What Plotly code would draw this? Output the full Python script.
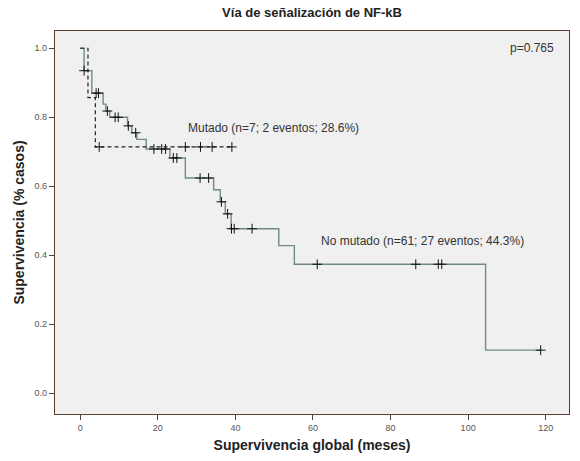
import numpy as np
import plotly.graph_objects as go

# Kaplan-Meier step curves (months, survival proportion)
no_mut_t = [0, 1.0, 3.0, 5.9, 6.6, 7.6, 12.2, 13.3, 14.6, 17.0, 23.1, 27.1,
            34.4, 36.1, 37.4, 38.9, 51.2, 55.2, 104.5, 118.7]
no_mut_s = [1.0, 0.935, 0.870, 0.838, 0.818, 0.800, 0.775, 0.755, 0.736, 0.708,
            0.682, 0.624, 0.590, 0.555, 0.520, 0.477, 0.428, 0.374, 0.125, 0.125]
no_mut_cens = [1.0, 4.1, 4.7, 7.0, 9.0, 9.8, 12.4, 14.3, 19.0, 21.0, 22.0, 24.0,
               24.9, 30.9, 33.1, 36.4, 38.0, 39.0, 39.7, 44.3, 61.1, 86.5, 92.3,
               93.2, 118.7]

mut_t = [0, 2.0, 3.9, 39.1]
mut_s = [1.0, 0.857, 0.714, 0.714]
mut_cens = [4.9, 27.1, 31.0, 34.0, 39.1]

x_ticks = [0, 20, 40, 60, 80, 100, 120]
y_ticks = [0.0, 0.2, 0.4, 0.6, 0.8, 1.0]

label_mut = "Mutado (n=7; 2 eventos; 28.6%)"
label_no_mut = "No mutado (n=61; 27 eventos; 44.3%)"
p_value = "p=0.765"


def step_value(times, surv, t):
    idx = np.searchsorted(np.asarray(times), t, side="right") - 1
    return float(np.asarray(surv)[idx])


fig = go.Figure()

fig.add_trace(go.Scatter(
    x=no_mut_t, y=no_mut_s, mode="lines", line_shape="hv",
    line=dict(color="#6f8a8a", width=1.4), hoverinfo="skip", showlegend=False))
fig.add_trace(go.Scatter(
    x=mut_t, y=mut_s, mode="lines", line_shape="hv",
    line=dict(color="#222222", width=1.2, dash="4px,3px"),
    hoverinfo="skip", showlegend=False))

censor_marker = dict(symbol="cross-thin", size=7, line=dict(color="#111111", width=1))
fig.add_trace(go.Scatter(
    x=no_mut_cens, y=[step_value(no_mut_t, no_mut_s, t) for t in no_mut_cens],
    mode="markers", marker=censor_marker, hoverinfo="skip", showlegend=False))
fig.add_trace(go.Scatter(
    x=mut_cens, y=[step_value(mut_t, mut_s, t) for t in mut_cens],
    mode="markers", marker=censor_marker, hoverinfo="skip", showlegend=False))

fig.add_annotation(x=27.2, y=0.77, xref="x", yref="y", text=label_mut,
                   showarrow=False, xanchor="left", yanchor="middle",
                   font=dict(size=12, color="#333333"))
fig.add_annotation(x=61.5, y=0.44, xref="x", yref="y", text=label_no_mut,
                   showarrow=False, xanchor="left", yanchor="middle",
                   font=dict(size=12, color="#333333"))
fig.add_annotation(x=0.975, y=0.955, xref="paper", yref="paper", text=p_value,
                   showarrow=False, xanchor="right", yanchor="middle",
                   font=dict(size=12, color="#333333"))

axis_common = dict(showline=True, linecolor="#5c4033", linewidth=1.2, mirror=True,
                   showgrid=False, zeroline=False, ticks="outside", ticklen=5,
                   tickcolor="#5c4033", tickwidth=1,
                   tickfont=dict(family="Liberation Sans, Arial, sans-serif",
                                 size=9, color="#555555"))

fig.update_xaxes(range=[-6.5, 126], tickvals=x_ticks,
                 title=dict(text="<b>Supervivencia global (meses)</b>",
                            font=dict(size=14, color="#222222"), standoff=8),
                 **axis_common)
fig.update_yaxes(range=[-0.06, 1.05], tickvals=y_ticks, tickformat=".1f",
                 title=dict(text="<b>Supervivencia (% casos)</b>",
                            font=dict(size=14, color="#222222"), standoff=6),
                 **axis_common)

fig.update_layout(
    width=580, height=461,
    margin=dict(l=55, r=10, t=31, b=44),
    paper_bgcolor="white", plot_bgcolor="#f0f0f0",
    font=dict(family="Liberation Sans, Arial, sans-serif"),
    title=dict(text="<b>Vía de señalización de NF-kB</b>", x=0.538, xanchor="center",
               y=0.972, yanchor="middle", font=dict(size=13, color="#222222")),
)

fig.write_html("out.html")
